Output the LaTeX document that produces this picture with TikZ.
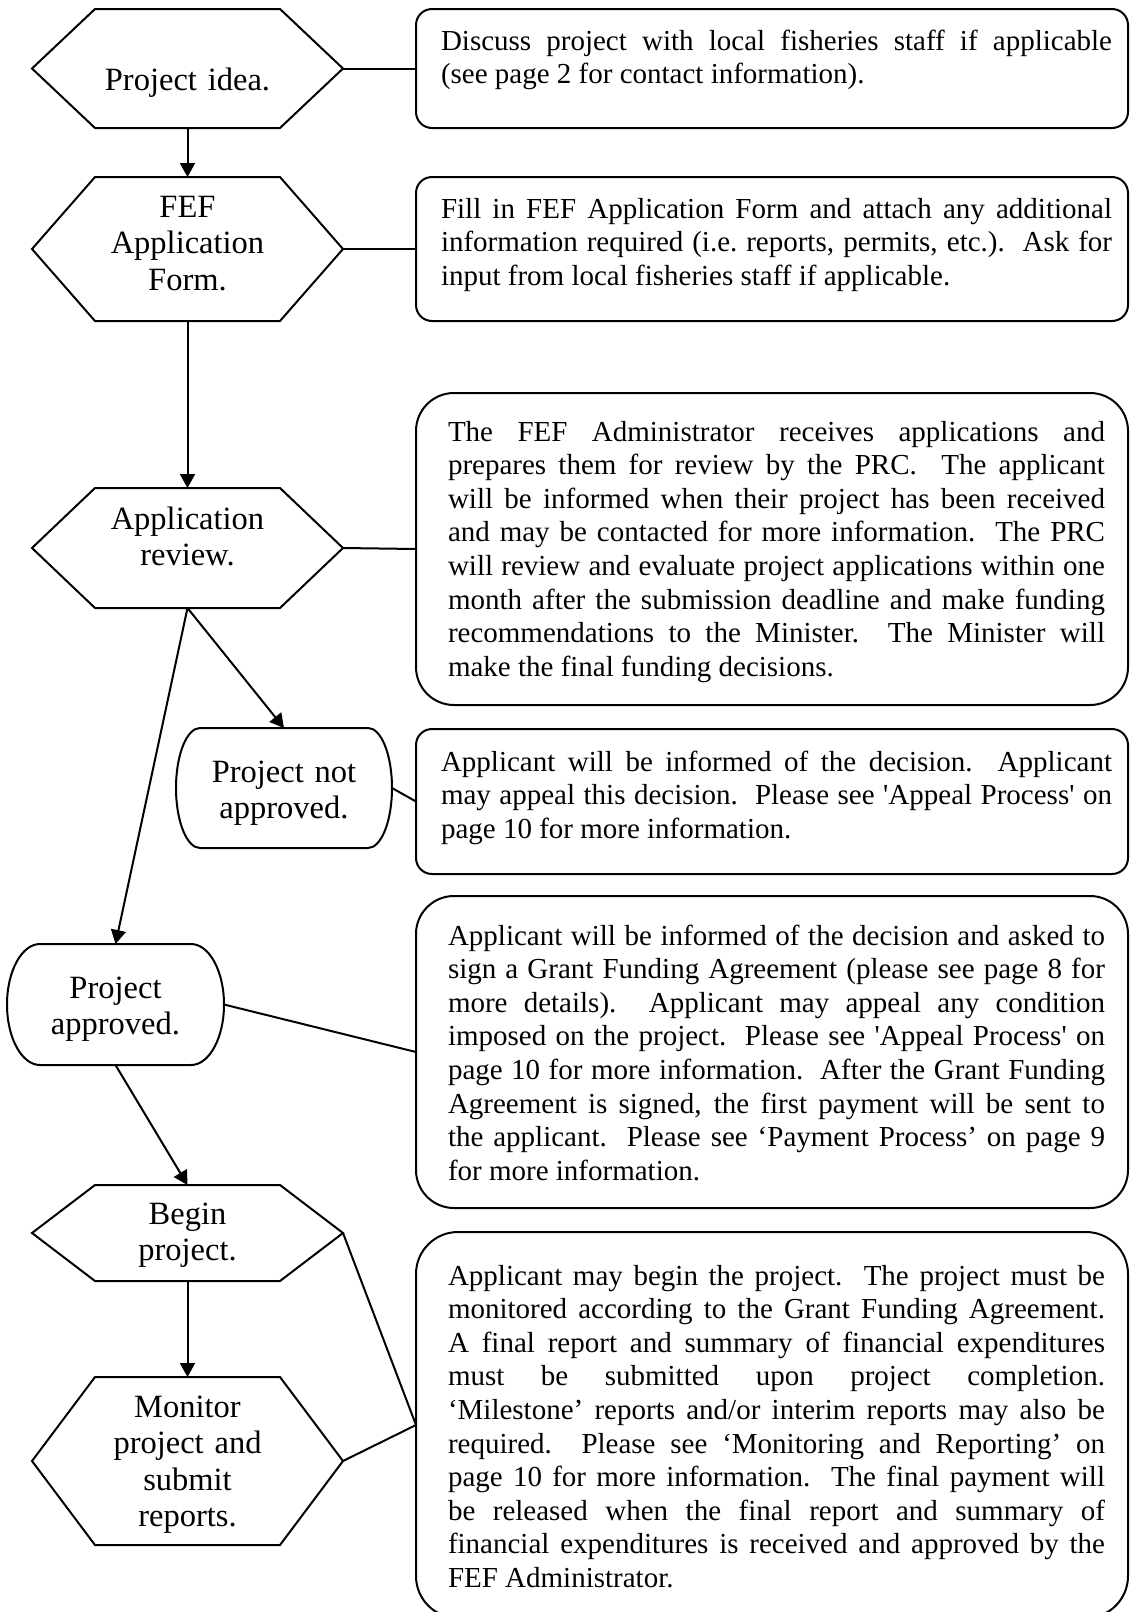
\documentclass[tikz,border=0pt]{standalone}
\usepackage{fontspec}
\setmainfont{Liberation Serif}
\usetikzlibrary{arrows.meta}
\tikzset{
  conn/.style={line width=2pt},
  arr/.style={conn, -{Triangle[length=14pt,width=15pt]}},
  shapeline/.style={line width=2pt, line join=miter},
  blank/.style={inner sep=0pt, outer sep=0pt},
  infobox/.style={draw, line width=2pt, inner sep=0pt, outer sep=0pt, minimum width=712pt},
  boxtext/.style={anchor=base west, inner sep=0pt, outer sep=0pt, align=justify,
    font=\fontsize{29}{33.6}\selectfont,
    execute at begin node={\hyphenpenalty=10000\tolerance=9999\emergencystretch=20pt}},
  hextext/.style={anchor=base, inner sep=0pt, outer sep=0pt, text width=300pt, align=center,
    font=\fontsize{32.5}{36.5}\selectfont},
}
\newcommand\hexdraw[1]{%
  \draw[shapeline] (#1.west) -- ([xshift=63pt]#1.north west) -- ([xshift=-63pt]#1.north east)
    -- (#1.east) -- ([xshift=-63pt]#1.south east) -- ([xshift=63pt]#1.south west) -- cycle;}
\newcommand\stadiumdraw[3]{%
  \draw[shapeline] ([xshift=#2]#1.north west) -- ([xshift=-#2]#1.north east)
    arc[start angle=90, end angle=-90, x radius=#2, y radius=#3]
    -- ([xshift=#2]#1.south west)
    arc[start angle=270, end angle=90, x radius=#2, y radius=#3] -- cycle;}
\begin{document}
\begin{tikzpicture}[x=1pt, y=-1pt]
\useasboundingbox (0,0) rectangle (1130,1612);
\clip (0,0) rectangle (1130,1612);

% ---- left column shapes ----
\node[blank, minimum width=311pt, minimum height=119pt] (h1) at (187.5,68.5) {};
\node[blank, minimum width=311pt, minimum height=144pt] (h2) at (187.5,249) {};
\node[blank, minimum width=311pt, minimum height=120pt] (h3) at (187.5,548) {};
\node[blank, minimum width=216pt, minimum height=120pt] (na) at (284,788) {};
\node[blank, minimum width=217pt, minimum height=121pt] (ap) at (115.5,1004.5) {};
\node[blank, minimum width=311pt, minimum height=96pt] (bg) at (187.5,1233) {};
\node[blank, minimum width=311pt, minimum height=168pt] (mn) at (187.5,1461) {};

\hexdraw{h1}
\hexdraw{h2}
\hexdraw{h3}
\hexdraw{bg}
\hexdraw{mn}
\stadiumdraw{na}{24pt}{60pt}
\stadiumdraw{ap}{33pt}{60.5pt}

\node[hextext] (h1t) at (187.5,90) {Project idea.};
\node[hextext] (h2t) at (187.5,217) {FEF\\Application\\Form.};
\node[hextext] (h3t) at (187.5,529) {Application\\review.};
\node[hextext] (nat) at (284,782) {Project not\\approved.};
\node[hextext] (apt) at (115.5,998) {Project\\approved.};
\node[hextext] (bgt) at (187.5,1224) {Begin\\project.};
\node[hextext] (mnt) at (187.5,1417) {Monitor\\project and\\submit\\reports.};

% ---- right column boxes ----
\node[infobox, rounded corners=16pt, minimum height=119pt] (b1) at (772,68.5) {};
\node[infobox, rounded corners=16pt, minimum height=144pt] (b2) at (772,249) {};
\node[infobox, rounded corners=38pt, minimum height=312pt] (b3) at (772,549) {};
\node[infobox, rounded corners=16pt, minimum height=145pt] (b4) at (772,801.5) {};
\node[infobox, rounded corners=38pt, minimum height=312pt] (b5) at (772,1052) {};
\node[infobox, rounded corners=42pt, minimum height=386pt] (b6) at (772,1425) {};

\node[boxtext, text width=671pt] (b1t) at (441,50) {Discuss project with local fisheries staff if applicable\linebreak
(see page 2 for contact information).};
\node[boxtext, text width=671pt] (b2t) at (441,218) {Fill in FEF Application Form and attach any additional\linebreak
information required (i.e.\ reports, permits, etc.).\ \ Ask for\linebreak
input from local fisheries staff if applicable.};
\node[boxtext, text width=657pt] (b3t) at (448,441) {The FEF Administrator receives applications and\linebreak
prepares them for review by the PRC.\ \ The applicant\linebreak
will be informed when their project has been received\linebreak
and may be contacted for more information.\ \ The PRC\linebreak
will review and evaluate project applications within one\linebreak
month after the submission deadline and make funding\linebreak
recommendations to the Minister.\ \ The Minister will\linebreak
make the final funding decisions.};
\node[boxtext, text width=671pt] (b4t) at (441,771) {Applicant will be informed of the decision.\ \ Applicant\linebreak
may appeal this decision.\ \ Please see \textquotesingle Appeal Process\textquotesingle\ on\linebreak
page 10 for more information.};
\node[boxtext, text width=657pt] (b5t) at (448,945) {Applicant will be informed of the decision and asked to\linebreak
sign a Grant Funding Agreement (please see page 8 for\linebreak
more details).\ \ Applicant may appeal any condition\linebreak
imposed on the project.\ \ Please see \textquotesingle Appeal Process\textquotesingle\ on\linebreak
page 10 for more information.\ \ After the Grant Funding\linebreak
Agreement is signed, the first payment will be sent to\linebreak
the applicant.\ \ Please see ‘Payment Process’ on page 9\linebreak
for more information.};
\node[boxtext, text width=657pt] (b6t) at (448,1285) {Applicant may begin the project.\ \ The project must be\linebreak
monitored according to the Grant Funding Agreement.\linebreak
A final report and summary of financial expenditures\linebreak
must be submitted upon project completion.\linebreak
‘Milestone’ reports and/or interim reports may also be\linebreak
required.\ \ Please see ‘Monitoring and Reporting’ on\linebreak
page 10 for more information.\ \ The final payment will\linebreak
be released when the final report and summary of\linebreak
financial expenditures is received and approved by the\linebreak
FEF Administrator.};

% ---- connectors ----
\draw[arr] (h1.south) -- (h2.north);
\draw[arr] (h2.south) -- (h3.north);
\draw[arr] (h3.south) -- (na.north);
\draw[arr] (h3.south) -- (ap.north);
\draw[arr] (ap.south) -- (bg.north);
\draw[arr] (bg.south) -- (mn.north);

\draw[conn] (h1.east) -- (b1.west);
\draw[conn] (h2.east) -- (b2.west);
\draw[conn] (h3.east) -- (b3.west);
\draw[conn] (na.east) -- (b4.west);
\draw[conn] (ap.east) -- (b5.west);
\draw[conn] (bg.east) -- (b6.west);
\draw[conn] (mn.east) -- (b6.west);
\end{tikzpicture}
\end{document}
